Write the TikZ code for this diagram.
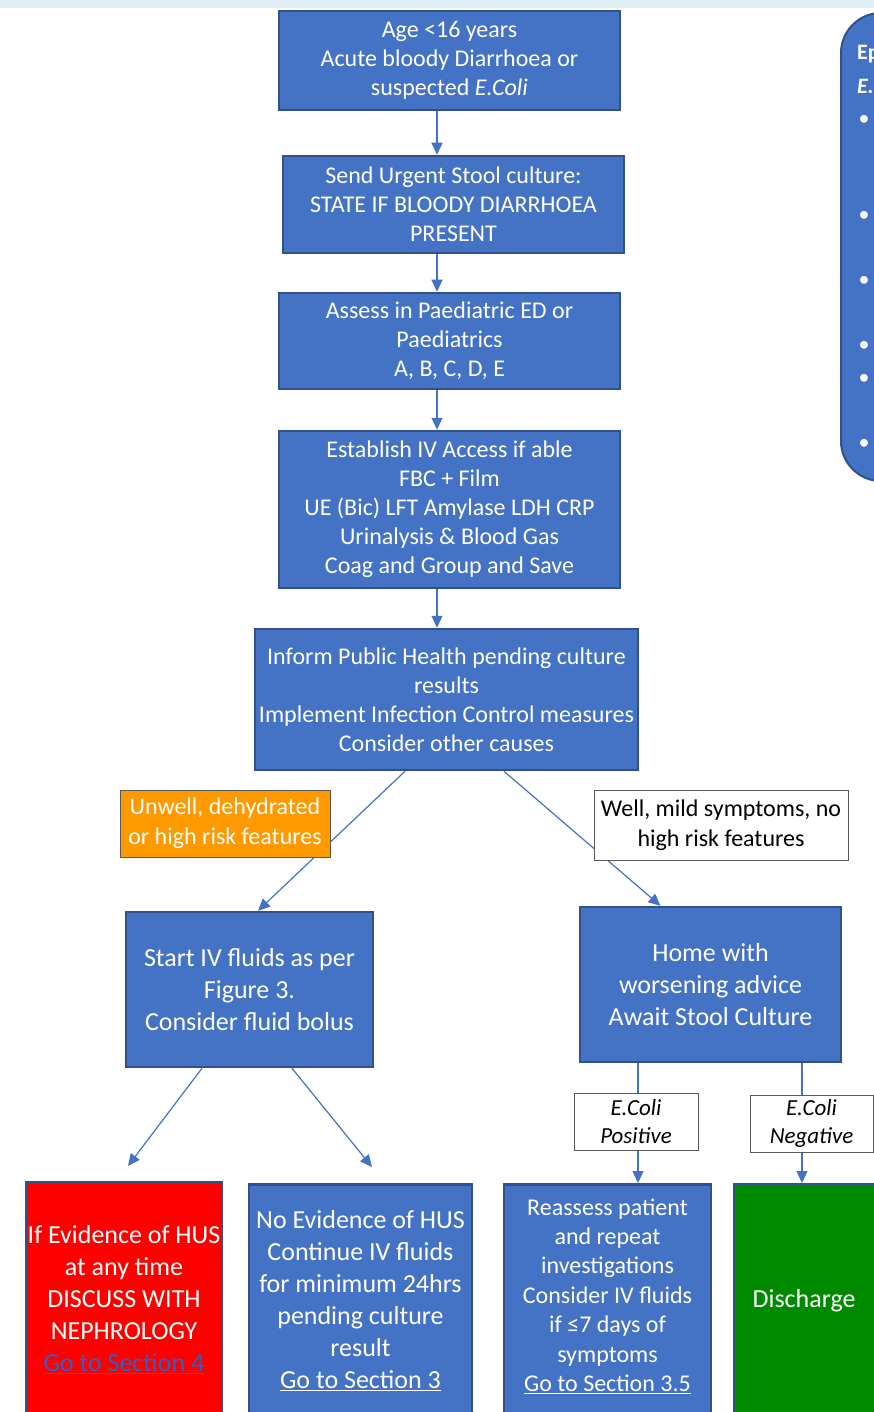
\documentclass[tikz,border=0pt]{standalone}
\usepackage{fontspec}
\setmainfont{Carlito}
\usepackage{xcolor}
\usetikzlibrary{arrows.meta,calc}

\definecolor{boxblue}{HTML}{4472C4}
\definecolor{edgeblue}{HTML}{2F528F}
\definecolor{stripblue}{HTML}{E0EEF5}
\definecolor{warnorange}{HTML}{FF9900}
\definecolor{okgreen}{HTML}{008A00}
\definecolor{linkblue}{HTML}{2F5FC8}

\begin{document}
\begin{tikzpicture}[x=1pt,y=-1pt,
  box/.style={draw=edgeblue,line width=2.5pt,fill=boxblue,text=white,align=center,inner sep=0pt,font=\fontsize{24}{29}\selectfont},
  bigbox/.style={box,font=\fontsize{26}{32}\selectfont},
  tag/.style={draw=gray!70!black,line width=0.8pt,fill=white,align=center,inner sep=0pt,font=\fontsize{24}{30}\selectfont},
  txt/.style={text=white,align=center,inner sep=0pt},
  flow/.style={draw=boxblue,line width=1.2pt,-{Triangle[length=12pt,width=11pt]}}]
\useasboundingbox (0,0) rectangle (874,1412);
\fill[stripblue] (0,0) rectangle (874,8);

% 右侧面板
\draw[draw=edgeblue,line width=2pt,fill=boxblue,rounded corners=40pt] (841,13) rectangle (990,481);
\node[anchor=west,text=white,inner sep=0pt,font=\bfseries\fontsize{22}{26}\selectfont] (ep) at (857,54) {Ep};
\node[anchor=west,text=white,inner sep=0pt,font=\bfseries\itshape\fontsize{22}{26}\selectfont] (ec) at (857,86) {E.};
\foreach \y in {120,216,281,346,379,444}
  \node[text=white,inner sep=0pt,font=\fontsize{22}{22}\selectfont] (bul\y) at (864,\y) {•};

% 第1层 主干
\node[box,minimum width=341,minimum height=99] (b1) at (449.5,60.5)
  {Age <16 years\\Acute bloody Diarrhoea or\\suspected \textit{E.Coli}};
\node[box,minimum width=341,minimum height=97] (b2) at (453.5,204.5)
  {Send Urgent Stool culture:\\STATE IF BLOODY DIARRHOEA\\PRESENT};
\node[box,minimum width=341,minimum height=96] (b3) at (449.5,341)
  {Assess in Paediatric ED or\\Paediatrics\\A, B, C, D, E};
\node[box,minimum width=341,minimum height=157] (b4) at (449.5,509.5)
  {Establish IV Access if able\\FBC + Film\\UE (Bic) LFT Amylase LDH CRP\\Urinalysis \& Blood Gas\\Coag and Group and Save};
\node[box,minimum width=383,minimum height=141] (b5) at (446.5,699.5)
  {Inform Public Health pending culture\\results\\Implement Infection Control measures\\Consider other causes};

% 第2层
\node[bigbox,minimum width=247,minimum height=155] (b6) at (249.5,989.5)
  {Start IV fluids as per\\Figure 3.\\Consider fluid bolus};
\node[bigbox,minimum width=261,minimum height=155] (b7) at (710.5,984.5)
  {Home with\\worsening advice\\Await Stool Culture};

% 底层
\node[box,fill=red,minimum width=196,minimum height=262,anchor=north] (hus) at (124,1181) {};
\node[txt,font=\fontsize{26}{32}\selectfont] (hustxt) at (124,1300)
  {If Evidence of HUS\\at any time\\DISCUSS WITH\\NEPHROLOGY\\\textcolor{linkblue}{\underline{Go to Section 4}}};
\node[box,minimum width=223,minimum height=262,anchor=north] (noev) at (360.5,1183) {};
\node[txt,font=\fontsize{26}{32}\selectfont] (noevtxt) at (360.5,1301)
  {No Evidence of HUS\\Continue IV fluids\\for minimum 24hrs\\pending culture\\result\\\underline{Go to Section 3}};
\node[box,minimum width=207,minimum height=262,anchor=north] (reassess) at (607.5,1183) {};
\node[txt,font=\fontsize{24}{29.4}\selectfont] (reassesstxt) at (607.5,1296)
  {Reassess patient\\and repeat\\investigations\\Consider IV fluids\\if ≤7 days of\\symptoms\\\underline{Go to Section 3.5}};
\node[box,fill=okgreen,line width=2pt,minimum width=160,minimum height=262,anchor=north] (discharge) at (814,1183) {};
\node[txt,font=\fontsize{26}{32}\selectfont] (dischargetxt) at (804,1301) {Discharge};

% 连线
\coordinate (spine) at (437,0);
\draw[flow] (b1.south -| spine) -- (b2.north -| spine);
\draw[flow] (b2.south -| spine) -- (b3.north -| spine);
\draw[flow] (b3.south -| spine) -- (b4.north -| spine);
\draw[flow] (b4.south -| spine) -- (b5.north -| spine);

\draw[flow] ($(b5.south)+(-41.5,0)$) -- ($(b6.north)+(8.5,0)$);
\draw[flow] ($(b5.south)+(57.5,0)$) -- ($(b7.north)+(-50,0)$);

\draw[flow] ($(b6.south)+(-47.5,0)$) -- ($(hus.north)+(4,-15)$);
\draw[flow] ($(b6.south)+(42.5,0)$) -- ($(noev.north)+(11.5,-16)$);

\coordinate (posx) at ($(b7.south)+(-72.5,0)$);
\coordinate (negx) at ($(b7.south)+(91.5,0)$);
\draw[flow] (posx) -- (posx |- reassess.north);
\draw[flow] (negx) -- (negx |- discharge.north);

% 条件标签
\node[tag,fill=warnorange,text=white,minimum width=210,minimum height=67] (unwell) at (225,823.5)
  {Unwell, dehydrated\\or high risk features};
\node[tag,minimum width=254,minimum height=70] (well) at (721,825)
  {Well, mild symptoms, no\\high risk features};
\node[tag,font=\itshape\fontsize{23}{28}\selectfont,minimum width=124,minimum height=57] (pos) at (636,1121.5)
  {E.Coli\\Positive};
\node[tag,font=\itshape\fontsize{23}{28}\selectfont,minimum width=123,minimum height=57] (neg) at (811.5,1123.5)
  {E.Coli\\Negative};
\end{tikzpicture}
\end{document}
